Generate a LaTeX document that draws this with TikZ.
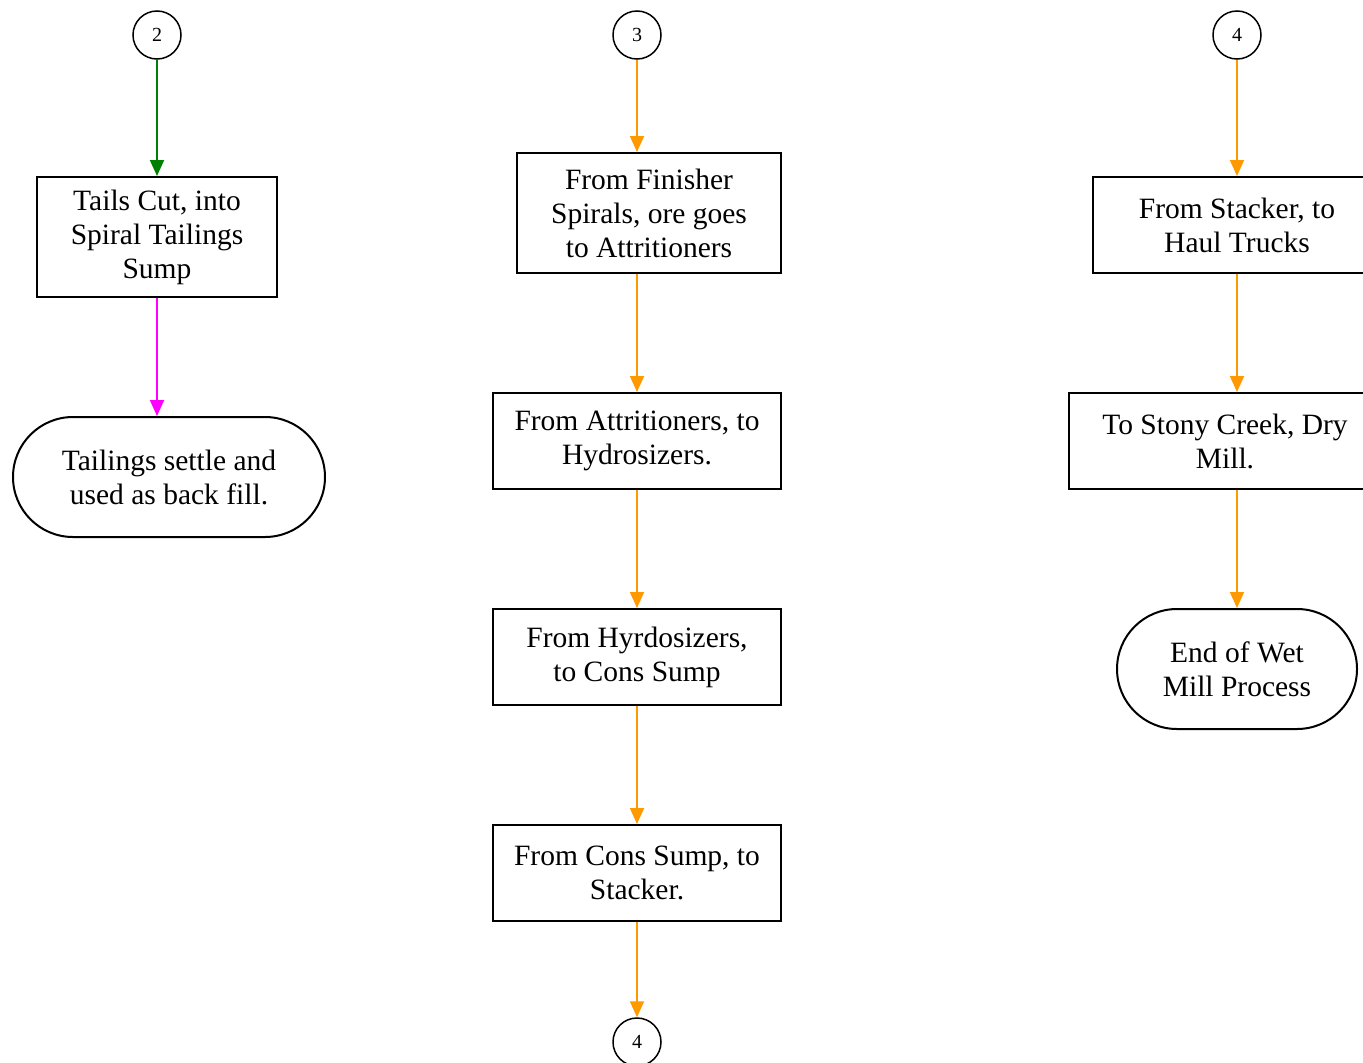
\documentclass[tikz,border=0pt]{standalone}
\usepackage{fontspec}
\setmainfont{Liberation Serif}
\usetikzlibrary{arrows.meta}
\definecolor{orangeln}{RGB}{255,153,0}
\definecolor{greenln}{RGB}{0,128,0}
\definecolor{magentaln}{RGB}{255,0,255}
\begin{document}
\begin{tikzpicture}[x=1pt,y=-1pt,
  box/.style={draw=black,line width=2pt,rectangle,inner sep=0pt,align=center,
    font=\fontsize{29.5}{34}\selectfont},
  stad/.style={box,rounded corners=60pt,minimum height=120pt},
  conn/.style={draw=black,line width=1.5pt,circle,minimum size=48pt,inner sep=0pt,
    font=\fontsize{20}{22}\selectfont},
  arr/.style={line width=2pt,-{Triangle[width=14pt,length=16pt]}},
  oarr/.style={arr,draw=orangeln,fill=orangeln},
]
\useasboundingbox (0,0) rectangle (1363,1063);
% connectors (circles)
\node[conn] (c2) at (157,35) {2};
\node[conn] (c3) at (637,35) {3};
\node[conn] (c4a) at (1237,35) {4};
\node[conn] (c4b) at (637,1042) {4};
% column 1
\node[box,minimum width=240pt,minimum height=120pt] (tails) at (157,237) {Tails Cut, into\\Spiral Tailings\\Sump};
\node[stad,minimum width=312pt] (settle) at (169,477) {Tailings settle and\\used as back fill.};
% column 2
\node[box,minimum width=264pt,minimum height=120pt] (fin) at (649,213) {From Finisher\\Spirals, ore goes\\to Attritioners};
\node[box,minimum width=288pt,minimum height=96pt] (attr) at (637,441) {From Attritioners, to\\Hydrosizers.};
\node[box,minimum width=288pt,minimum height=96pt] (hyd) at (637,657) {From Hyrdosizers,\\to Cons Sump};
\node[box,minimum width=288pt,minimum height=96pt] (cons) at (637,873) {From Cons Sump, to\\Stacker.};
% column 3
\node[box,minimum width=288pt,minimum height=96pt] (stack) at (1237,225) {From Stacker, to\\Haul Trucks};
\node[box,minimum width=312pt,minimum height=96pt] (stony) at (1225,441) {To Stony Creek, Dry\\Mill.};
\node[stad,minimum width=240pt] (endwet) at (1237,669) {End of Wet\\Mill Process};
% arrows
\draw[arr,draw=greenln,fill=greenln] (c2) -- (tails);
\draw[arr,draw=magentaln,fill=magentaln] (tails.south) -- (tails.south |- settle.north);
\draw[oarr] (c3) -- (c3 |- fin.north);
\draw[oarr] (c3 |- fin.south) -- (attr.north);
\draw[oarr] (attr) -- (hyd);
\draw[oarr] (hyd) -- (cons);
\draw[oarr] (cons) -- (c4b);
\draw[oarr] (c4a) -- (stack);
\draw[oarr] (stack.south) -- (stack.south |- stony.north);
\draw[oarr] (stack.south |- stony.south) -- (endwet);
\end{tikzpicture}
\end{document}
